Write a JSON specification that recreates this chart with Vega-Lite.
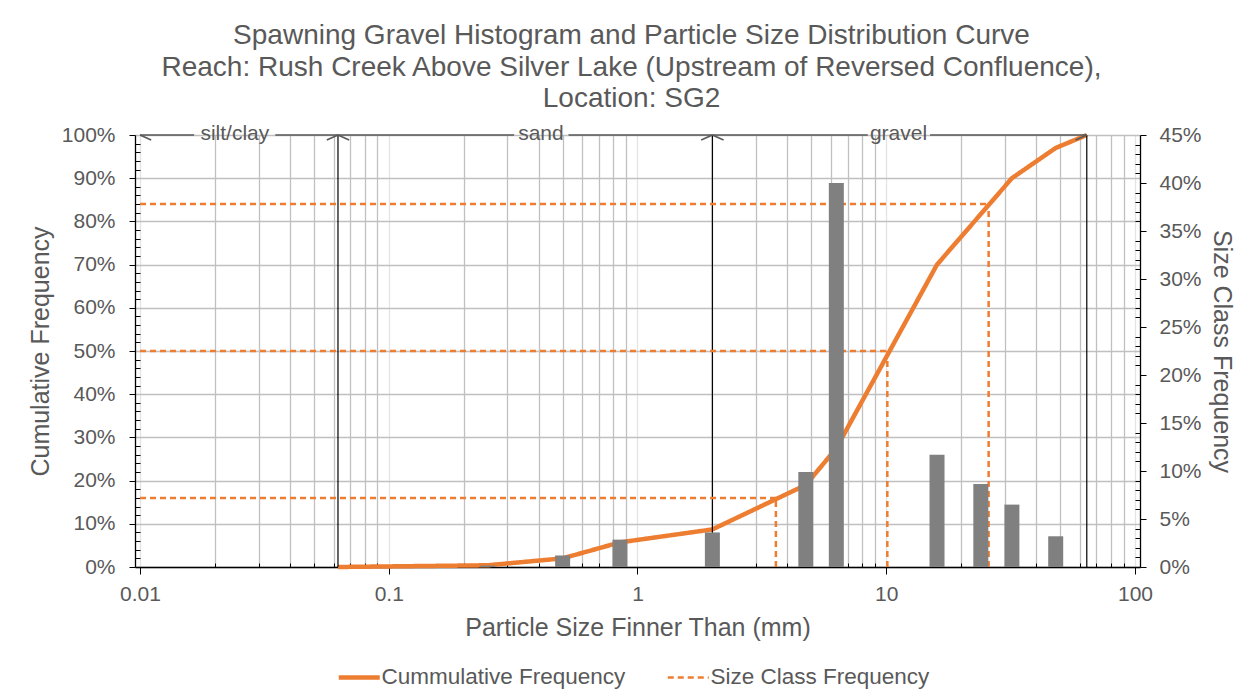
{
  "$schema": "https://vega.github.io/schema/vega-lite/v6.json",
  "width": 1005,
  "height": 432,
  "autosize": "none",
  "padding": {"left": 135, "top": 135, "right": 112, "bottom": 129},
  "background": "white",
  "config": {
    "view": {"stroke": null},
    "font": "Liberation Sans",
    "axis": {
      "labelFont": "Liberation Sans",
      "titleFont": "Liberation Sans",
      "labelColor": "#595959",
      "titleColor": "#595959",
      "titleFontWeight": "normal",
      "labelFontSize": 21,
      "titleFontSize": 25,
      "domainColor": "#000000",
      "tickColor": "#000000",
      "labelOverlap": false,
      "labelFlush": false,
      "labelBound": false
    },
    "legend": {
      "orient": "none",
      "legendX": 213,
      "legendY": 531,
      "direction": "horizontal",
      "labelFont": "Liberation Sans",
      "labelFontSize": 22.5,
      "labelColor": "#595959",
      "symbolType": "stroke",
      "symbolSize": 1681,
      "symbolStrokeWidth": 3,
      "labelOffset": 11,
      "columnPadding": 36,
      "labelLimit": 400
    }
  },
  "title": {
    "text": [
      "Spawning Gravel Histogram and Particle Size Distribution Curve",
      "Reach: Rush Creek Above Silver Lake (Upstream of Reversed Confluence),",
      "Location: SG2"
    ],
    "fontSize": 28,
    "fontWeight": "normal",
    "color": "#595959",
    "font": "Liberation Sans",
    "lineHeight": 31.5,
    "anchor": "middle",
    "offset": 10,
    "dx": -6
  },
  "datasets": {
    "cum": [
      {"x": 0.0625, "y": 0},
      {"x": 0.25, "y": 0.4},
      {"x": 0.5, "y": 2.0},
      {"x": 0.85, "y": 5.7},
      {"x": 2, "y": 8.7},
      {"x": 4.75, "y": 19},
      {"x": 6.3, "y": 27.5},
      {"x": 16, "y": 70},
      {"x": 32, "y": 90},
      {"x": 48, "y": 97},
      {"x": 64, "y": 100}
    ],
    "freq": [
      {"x": 0.25, "f": 0.15},
      {"x": 0.5, "f": 1.2},
      {"x": 0.85, "f": 2.85},
      {"x": 2, "f": 3.6},
      {"x": 4.75, "f": 9.9},
      {"x": 6.3, "f": 40},
      {"x": 16, "f": 11.7},
      {"x": 24, "f": 8.65},
      {"x": 32, "f": 6.5},
      {"x": 48, "f": 3.2}
    ],
    "dpct": [
      {"x": 0.01, "x2": 3.6, "y": 16, "y2": 16},
      {"x": 3.6, "x2": 3.6, "y": 0, "y2": 16},
      {"x": 0.01, "x2": 10.1, "y": 50, "y2": 50},
      {"x": 10.1, "x2": 10.1, "y": 0, "y2": 50},
      {"x": 0.01, "x2": 25.8, "y": 84, "y2": 84},
      {"x": 25.8, "x2": 25.8, "y": 0, "y2": 84}
    ],
    "bounds": [{"x": 0.0625}, {"x": 2}, {"x": 64}],
    "segs": [
      {"x": 0.01, "x2": 0.0165},
      {"x": 0.035, "x2": 0.319},
      {"x": 0.528, "x2": 8.43},
      {"x": 15.0, "x2": 64}
    ],
    "arrows": [
      {"x": 0.01, "dir": "left"},
      {"x": 0.0625, "dir": "right"},
      {"x": 0.0625, "dir": "left"},
      {"x": 2, "dir": "right"},
      {"x": 2, "dir": "left"},
      {"x": 64, "dir": "right"}
    ],
    "labels": [
      {"x": 0.02405, "label": "silt/clay"},
      {"x": 0.409, "label": "sand"},
      {"x": 11.2, "label": "gravel"}
    ]
  },
  "encoding": {
    "x": {
      "field": "x",
      "type": "quantitative",
      "scale": {"type": "log", "domain": [0.01, 100], "nice": false},
      "axis": {
        "title": "Particle Size Finner Than (mm)",
        "values": [0.01, 0.02, 0.03, 0.04, 0.05, 0.06, 0.07, 0.08, 0.09, 0.1, 0.2, 0.3, 0.4, 0.5, 0.6, 0.7, 0.8, 0.9, 1, 2, 3, 4, 5, 6, 7, 8, 9, 10, 20, 30, 40, 50, 60, 70, 80, 90, 100],
        "labelExpr": "datum.value == 0.01 ? '0.01' : datum.value == 0.1 ? '0.1' : datum.value == 1 ? '1' : datum.value == 10 ? '10' : datum.value == 100 ? '100' : ''",
        "grid": true,
        "gridColor": {"condition": {"test": "indexof([0.01, 0.1, 1, 10, 100], datum.value) >= 0", "value": "#e4e4e4"}, "value": "#c0c0c0"},
        "gridWidth": 1.3,
        "tickSize": {"condition": {"test": "indexof([0.01, 0.1, 1, 10, 100], datum.value) >= 0", "value": 7}, "value": -4},
        "labelPadding": 9,
        "titlePadding": 11,
        "domainWidth": 1.3
      }
    }
  },
  "layer": [
    {
      "data": {"name": "cum"},
      "mark": {"type": "line", "strokeCap": "butt", "strokeWidth": 4.5},
      "encoding": {
        "y": {"field": "y", "type": "quantitative", "scale": {"domain": [0, 100], "nice": false},
          "axis": {
            "title": "Cumulative Frequency",
            "orient": "left",
            "values": [0, 2, 4, 6, 8, 10, 12, 14, 16, 18, 20, 22, 24, 26, 28, 30, 32, 34, 36, 38, 40, 42, 44, 46, 48, 50, 52, 54, 56, 58, 60, 62, 64, 66, 68, 70, 72, 74, 76, 78, 80, 82, 84, 86, 88, 90, 92, 94, 96, 98, 100],
            "labelExpr": "datum.value % 10 === 0 ? datum.value + '%' : ''",
            "grid": true,
            "gridColor": "#c0c0c0",
            "gridWidth": 1.3,
            "gridOpacity": {"condition": {"test": "datum.value % 10 === 0", "value": 1}, "value": 0},
            "tickSize": {"condition": {"test": "datum.value % 10 === 0", "value": 6}, "value": -5},
            "labelPadding": 14,
            "titlePadding": 8,
            "domainWidth": 1.3
          }
        },
        "color": {"datum": "Cummulative Frequency", "type": "nominal",
          "scale": {"domain": ["Cummulative Frequency", "Size Class Frequency"], "range": ["#ED7D31", "#ED7D31"]},
          "legend": {"title": null,
            "encode": {"symbols": {"update": {
              "strokeWidth": {"signal": "datum.value === 'Cummulative Frequency' ? 4.5 : 2.5"},
              "size": {"value": 1681}
            }}}}},
        "strokeDash": {"datum": "Cummulative Frequency", "type": "nominal",
          "scale": {"domain": ["Cummulative Frequency", "Size Class Frequency"], "range": [[1, 0], [6, 4]]},
          "legend": {"title": null}}
      }
    },
    {
      "data": {"name": "bounds"},
      "mark": {"type": "rule", "color": "#000000", "strokeWidth": 1.2},
      "encoding": {
        "y": {"datum": 0, "type": "quantitative", "scale": {"domain": [0, 100], "nice": false}, "axis": null},
        "y2": {"datum": 100}
      }
    },
    {
      "data": {"name": "segs"},
      "mark": {"type": "rule", "color": "#595959", "strokeWidth": 1.6},
      "encoding": {
        "x2": {"field": "x2"},
        "y": {"datum": 100, "type": "quantitative", "scale": {"domain": [0, 100], "nice": false}, "axis": null}
      }
    },
    {
      "data": {"name": "arrows"},
      "mark": {"type": "point", "filled": false, "stroke": "#595959", "strokeWidth": 1.6, "size": 500, "opacity": 1},
      "encoding": {
        "y": {"datum": 100, "type": "quantitative", "scale": {"domain": [0, 100], "nice": false}, "axis": null},
        "shape": {"field": "dir", "type": "nominal", "legend": null,
          "scale": {"domain": ["left", "right"], "range": ["M0,0L1,0.45", "M-1,0.45L0,0"]}}
      }
    },
    {
      "data": {"name": "labels"},
      "mark": {"type": "text", "fontSize": 21, "color": "#595959", "baseline": "middle", "align": "center", "dy": -1, "font": "Liberation Sans"},
      "encoding": {
        "y": {"datum": 100, "type": "quantitative", "scale": {"domain": [0, 100], "nice": false}, "axis": null},
        "text": {"field": "label"}
      }
    },
    {
      "data": {"name": "dpct"},
      "mark": {"type": "rule", "strokeDash": [7, 5], "strokeWidth": 2.5},
      "encoding": {
        "x2": {"field": "x2"},
        "y": {"field": "y", "type": "quantitative", "scale": {"domain": [0, 100], "nice": false}, "axis": null},
        "y2": {"field": "y2"},
        "color": {"datum": "Size Class Frequency", "type": "nominal"},
        "strokeDash": {"datum": "Size Class Frequency", "type": "nominal"}
      }
    },
    {
      "data": {"name": "freq"},
      "mark": {"type": "bar", "color": "#808080", "size": 15, "orient": "vertical"},
      "encoding": {
        "y": {"field": "f", "type": "quantitative", "scale": {"domain": [0, 45], "nice": false},
          "axis": {
            "title": "Size Class Frequency",
            "orient": "right",
            "values": [0, 1, 2, 3, 4, 5, 6, 7, 8, 9, 10, 11, 12, 13, 14, 15, 16, 17, 18, 19, 20, 21, 22, 23, 24, 25, 26, 27, 28, 29, 30, 31, 32, 33, 34, 35, 36, 37, 38, 39, 40, 41, 42, 43, 44, 45],
            "labelExpr": "datum.value % 5 === 0 ? datum.value + '%' : ''",
            "grid": false,
            "tickSize": {"condition": {"test": "datum.value % 5 === 0", "value": 6}, "value": -5},
            "labelPadding": 13,
            "titlePadding": 7,
            "domainWidth": 1.3
          }
        }
      }
    }
  ],
  "resolve": {"scale": {"y": "independent"}}
}
